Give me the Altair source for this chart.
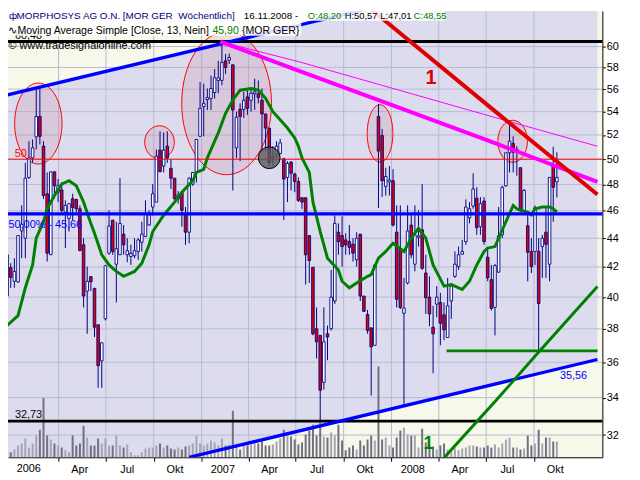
import altair as alt
import pandas as pd

FONT = "Liberation Sans"
NAVY = "#000080"
RED = "#e00000"
GREEN = "#008000"
GRID = "#b9b9d3"
CREAM = "#f6f8ea"
LAVENDER = "#dcdcee"

# ---------------- data (weekly candles, MORPHOSYS) ----------------
opens = [40.07, 41.96, 41.04, 41.00, 44.52, 44.00, 48.55, 50.11, 51.84, 53.58,
         51.07, 47.28, 42.84, 48.99, 47.40, 47.58, 45.90, 45.43, 46.90, 46.85,
         46.15, 43.53, 40.39, 41.35, 40.57, 38.25, 36.08, 38.62, 42.95, 45.31,
         42.19, 42.84, 44.29, 42.84, 42.72, 42.77, 43.07, 43.71, 44.12, 44.95,
         46.28, 46.65, 50.74, 49.45, 51.07, 49.27, 48.49, 46.90, 47.40, 45.70,
         44.43, 48.03, 48.94, 51.89, 54.44, 55.06, 55.15, 55.70, 56.80, 56.80,
         58.63, 58.70, 58.25, 50.93, 54.20, 54.20, 55.30, 55.00, 55.58, 55.58,
         55.00, 53.80, 52.58, 50.11, 50.38, 50.47, 50.03, 48.55, 49.77, 48.81,
         48.23, 46.98, 46.98, 44.19, 41.98, 38.00, 37.60, 34.85, 37.70, 38.00,
         39.75, 44.43, 44.19, 43.88, 43.76, 43.57, 42.49, 44.29, 40.07, 38.89,
         38.06, 37.00, 53.58, 51.95, 47.85, 48.20, 48.29, 44.43, 43.26, 38.97,
         40.93, 44.95, 42.19, 44.07, 44.60, 41.59, 40.00, 38.10, 39.55, 39.65,
         38.87, 37.47, 39.75, 41.37, 42.02, 42.88, 43.76, 45.48, 46.35, 46.95,
         44.83, 46.73, 42.67, 41.15, 39.34, 41.65, 44.24, 47.90, 50.52, 51.29,
         50.70, 49.32, 46.03, 44.90, 43.07, 43.07, 43.07, 43.41, 44.43, 42.19,
         49.45, 48.20]
highs = [42.90, 42.26, 42.60, 44.19, 46.40, 49.71, 51.48, 51.62, 56.06, 56.00,
         51.48, 48.94, 48.99, 48.99, 48.42, 48.16, 46.78, 46.53, 47.28, 46.90,
         46.40, 44.00, 42.02, 41.35, 40.61, 38.25, 37.15, 42.09, 46.03, 45.31,
         45.19, 48.49, 44.95, 44.00, 43.53, 44.00, 44.00, 45.19, 46.78, 46.03,
         48.03, 50.79, 52.31, 52.22, 52.31, 49.97, 48.49, 47.48, 47.48, 46.28,
         48.55, 48.94, 51.62, 56.66, 56.50, 56.06, 57.25, 57.85, 58.63, 60.30,
         59.27, 59.33, 58.25, 54.00, 54.73, 55.76, 55.90, 56.06, 56.95, 56.80,
         56.06, 53.80, 52.58, 51.07, 51.48, 51.67, 50.11, 49.84, 49.84, 48.94,
         48.55, 46.98, 46.98, 44.19, 41.98, 39.34, 37.60, 39.34, 38.20, 41.80,
         45.65, 45.07, 45.60, 44.36, 44.95, 44.00, 44.43, 44.29, 40.07, 39.18,
         38.06, 42.14, 54.68, 52.50, 49.32, 49.45, 49.20, 46.40, 46.40, 41.26,
         46.40, 45.78, 46.40, 46.03, 48.03, 42.84, 41.37, 39.44, 40.72, 40.28,
         39.65, 41.26, 40.93, 43.07, 43.41, 43.88, 46.85, 46.65, 48.88, 47.78,
         47.03, 47.03, 43.30, 42.14, 42.20, 46.28, 47.90, 50.52, 53.02, 51.89,
         51.07, 49.32, 47.65, 45.73, 44.00, 46.40, 44.00, 44.24, 46.28, 48.55,
         51.01, 50.57]
lows = [39.96, 40.61, 40.61, 40.93, 42.60, 42.60, 48.42, 49.71, 50.79, 51.20,
        46.90, 42.37, 42.84, 46.90, 46.65, 45.90, 43.30, 44.48, 45.31, 45.90,
        43.07, 39.34, 37.70, 40.39, 37.50, 34.54, 34.54, 38.52, 42.84, 42.84,
        39.65, 42.84, 42.84, 42.33, 42.14, 42.60, 42.49, 43.07, 44.12, 44.90,
        45.65, 46.65, 48.94, 48.94, 49.71, 47.65, 46.83, 46.53, 44.83, 43.53,
        43.64, 47.90, 48.16, 51.89, 51.89, 54.15, 54.15, 55.15, 55.62, 56.36,
        57.40, 58.32, 47.53, 50.11, 49.84, 53.44, 53.72, 54.00, 54.15, 54.73,
        50.66, 50.66, 49.45, 49.45, 50.11, 50.38, 45.31, 46.65, 47.53, 47.40,
        46.65, 46.15, 40.83, 40.93, 37.60, 36.22, 32.74, 34.44, 36.12, 37.90,
        39.55, 42.84, 42.02, 42.84, 42.84, 42.37, 42.02, 39.75, 39.09, 37.70,
        34.11, 37.00, 46.20, 47.03, 47.15, 47.15, 44.83, 39.34, 39.24, 33.54,
        40.83, 42.60, 41.70, 43.41, 41.80, 38.93, 38.16, 35.37, 38.72, 37.00,
        37.31, 37.47, 38.62, 41.26, 41.80, 42.84, 43.53, 45.07, 46.15, 44.24,
        44.24, 43.53, 41.04, 39.14, 37.60, 41.59, 44.00, 47.82, 48.94, 48.94,
        48.68, 45.90, 45.90, 41.04, 41.59, 42.14, 36.71, 41.26, 41.26, 41.04,
        45.19, 47.01]
closes = [42.84, 41.30, 41.70, 44.19, 45.00, 48.49, 50.11, 50.93, 53.58, 51.89,
          47.15, 42.95, 48.99, 47.90, 47.90, 46.03, 46.40, 46.53, 46.23, 46.15,
          43.14, 40.07, 41.04, 41.00, 38.10, 35.80, 37.15, 42.09, 44.88, 43.07,
          43.26, 45.07, 43.53, 43.12, 42.93, 43.12, 43.88, 44.29, 45.78, 45.70,
          47.28, 50.25, 49.01, 50.74, 50.11, 48.49, 46.90, 47.20, 46.03, 44.43,
          48.49, 48.94, 51.62, 54.29, 54.73, 55.24, 56.06, 57.04, 57.04, 58.48,
          58.00, 58.95, 54.15, 53.52, 53.58, 55.00, 54.29, 55.64, 55.76, 55.24,
          53.80, 52.58, 49.71, 50.25, 51.07, 51.34, 48.42, 49.66, 48.88, 48.23,
          46.78, 46.65, 42.84, 42.44, 37.70, 37.21, 34.41, 37.21, 37.50, 40.00,
          45.07, 43.76, 43.41, 43.53, 43.36, 42.95, 44.00, 40.07, 39.09, 37.90,
          36.91, 42.14, 50.66, 48.29, 48.62, 48.35, 44.95, 39.86, 39.34, 39.30,
          44.52, 42.84, 44.24, 44.17, 41.91, 39.96, 38.93, 37.70, 40.00, 38.35,
          37.94, 39.44, 40.72, 42.19, 42.84, 43.07, 46.28, 46.15, 47.65, 44.76,
          46.53, 43.76, 41.26, 39.28, 42.09, 44.17, 47.78, 50.52, 51.48, 50.57,
          50.80, 46.03, 47.53, 43.02, 42.02, 46.23, 39.59, 44.00, 43.57, 48.55,
          47.78, 48.55]
volumes = [80, 100, 160, 240, 280, 380, 200, 280, 440, 560,
           1200, 440, 360, 280, 240, 200, 140, 100, 440, 240,
           280, 640, 400, 240, 240, 380, 280, 380, 240, 240,
           440, 240, 200, 260, 100, 40, 40, 100, 180, 200,
           200, 240, 280, 200, 240, 180, 160, 200, 160, 220,
           240, 280, 440, 280, 240, 280, 340, 300, 240, 380,
           240, 260, 940, 280, 160, 280, 240, 260, 280, 280,
           320, 240, 240, 260, 320, 380, 560, 440, 420, 360,
           260, 300, 460, 540, 660, 440, 700, 420, 400, 500,
           440, 660, 340, 140, 200, 240, 160, 340, 240, 360,
           440, 340, 1840, 360, 400, 240, 200, 400, 540, 600,
           460, 440, 440, 200, 580, 300, 240, 220, 160, 240,
           280, 160, 100, 180, 140, 180, 200, 240, 240, 220,
           200, 200, 240, 200, 260, 200, 280, 360, 400, 200,
           200, 160, 180, 440, 240, 280, 560, 280, 400, 400,
           320, 320]
# 13-week simple moving average at these bars
ma_index = [0, 3, 5, 7, 8, 10, 11, 13, 15, 17,
            19, 21, 23, 24, 26, 28, 30, 32, 35, 37,
            39, 40, 43, 46, 48, 51, 52, 54, 55, 58,
            60, 62, 64, 67, 69, 71, 73, 75, 77, 79,
            80, 81, 83, 84, 86, 88, 91, 92, 94, 96,
            99, 100, 102, 104, 106, 109, 111, 113, 115, 117,
            120, 122, 124, 125, 127, 129, 131, 132, 134, 135,
            137, 139, 140, 141, 143, 144, 145, 147, 149, 150, 151]
ma_values = [38.21, 38.82, 40.61, 42.14, 44.00, 45.19, 46.15, 47.15, 48.03, 48.29,
             47.90, 46.65, 45.07, 44.36, 42.84, 42.14, 41.70, 41.37, 41.70, 42.26,
             43.53, 44.48, 45.67, 46.65, 47.40, 48.29, 48.94, 49.19, 50.11, 52.17,
             53.86, 55.03, 55.91, 56.06, 55.91, 55.18, 54.00, 53.30, 52.59, 51.75,
             51.07, 50.11, 48.94, 46.65, 44.48, 42.60, 41.80, 41.04, 40.61, 40.93,
             41.37, 41.48, 42.60, 43.07, 43.64, 43.07, 44.00, 44.71, 44.00, 42.14,
             40.72, 40.83, 40.61, 40.50, 41.04, 42.14, 43.07, 43.30, 43.41, 44.00,
             45.19, 46.40, 46.15, 46.03, 45.90, 45.70, 46.15, 46.28, 46.28, 46.15, 45.90]

y_ticks = [32, 34, 36, 38, 40, 42, 44, 46, 48, 50, 52, 54, 56, 58, 60]
quarter_ticks = ["2006-04-01", "2006-07-01", "2006-10-01", "2007-01-01", "2007-04-01",
                 "2007-07-01", "2007-10-01", "2008-01-01", "2008-04-01", "2008-07-01",
                 "2008-10-01"]

# drawn levels and trend lines (date, price)
black_levels = [60.48, 32.73]
fib_level = 45.77
red_level = 50.0
channel_dates = ["2005-12-23", "2006-12-08", "2008-01-01", "2009-01-31"]
channel_upper = [55.48, 59.54, 64.37, 64.37]
channel_lower = [30.87, 30.87, 33.38, 36.16]
blue_upper = [("2005-12-23", 55.48), ("2008-01-01", 64.37)]
blue_lower = [("2006-12-08", 30.87), ("2009-01-31", 36.16)]
magenta_thick = [("2007-02-06", 60.48), ("2007-07-02", 57.77), ("2008-01-05", 54.52),
                 ("2008-07-09", 51.47), ("2009-01-31", 48.20)]
magenta_thin = [("2007-02-06", 60.48), ("2007-07-11", 58.49), ("2008-01-14", 55.93),
                ("2008-07-19", 53.48), ("2009-01-31", 51.06)]
red_trend = [("2007-11-08", 64.37), ("2008-01-05", 61.85), ("2008-07-19", 54.00),
             ("2009-01-31", 47.23)]
green_flat = [("2008-04-16", 36.67), ("2009-01-31", 36.67)]
green_trend = [("2008-04-12", 30.87), ("2008-07-19", 33.81), ("2008-10-11", 36.63),
               ("2009-01-31", 40.70)]
ellipse_centers = [("2006-02-21", 52.97), ("2006-10-12", 51.39), ("2007-02-18", 54.74),
                   ("2007-12-10", 52.13), ("2008-08-21", 51.47)]
marker_center = ("2007-05-11", 50.12)

# ---------------- frames ----------------
dates = pd.date_range("2005-12-23", periods=len(closes), freq="7D")
candles = pd.DataFrame({"date": dates, "open": opens, "high": highs, "low": lows,
                        "close": closes, "volume": volumes})
candles["dir"] = ["up" if c >= o else "down" for o, c in zip(opens, closes)]
ma_df = pd.DataFrame({"date": dates[ma_index], "ma": ma_values})

X_SCALE = alt.Scale(domain=[alt.DateTime(year=2006, month=1, date=3, hours=5),
                            alt.DateTime(year=2009, month=1, date=31)])
Y_SCALE = alt.Scale(type="log", domain=[30.87, 63.55], nice=False, zero=False)
X_AXIS = alt.Axis(values=[alt.DateTime(year=int(q[:4]), month=int(q[5:7]), date=1)
                          for q in quarter_ticks],
                  labelExpr="month(datum.value) == 0 ? timeFormat(datum.value, '%Y') : "
                            "month(datum.value) == 3 ? 'Apr' : month(datum.value) == 6 ? 'Jul' : 'Okt'",
                  title=None, grid=False, tickSize=4, labelPadding=2, labelOffset=21,
                  labelFlush=False, labelOverlap=False, labelFont=FONT, labelFontSize=11,
                  labelColor="black", domainColor="black", tickColor="black")


def xenc(field):
    return alt.X(f"{field}:T", scale=X_SCALE, axis=X_AXIS)


def yenc(field):
    return alt.Y(f"{field}:Q", scale=Y_SCALE, axis=None)


def tline(points, color, width):
    df = pd.DataFrame({"d": pd.to_datetime([p[0] for p in points]),
                       "v": [p[1] for p in points]})
    return alt.Chart(df).mark_line(color=color, strokeWidth=width, clip=True).encode(
        x=xenc("d"), y=yenc("v"))


def hline(value, color, width):
    return alt.Chart(pd.DataFrame({"v": [value]})).mark_rule(
        color=color, strokeWidth=width).encode(y=yenc("v"))


def label(text, x, y, color="black", size=11, align="left", baseline="alphabetic",
          weight="normal"):
    return alt.Chart(pd.DataFrame({"t": [text]})).mark_text(
        align=align, baseline=baseline, color=color, fontSize=size, font=FONT,
        fontWeight=weight).encode(x=alt.value(x), y=alt.value(y), text="t:N")


def ellipse(center, rx, ry):
    m = max(rx, ry)
    a, b = rx / m, ry / m
    path = f"M {-a:.3f} 0 A {a:.3f} {b:.3f} 0 1 1 {a:.3f} 0 A {a:.3f} {b:.3f} 0 1 1 {-a:.3f} 0 Z"
    df = pd.DataFrame({"d": pd.to_datetime([center[0]]), "v": [center[1]]})
    return alt.Chart(df).mark_point(
        shape=path, size=(2 * m) ** 2, filled=True, fill="#c87896", fillOpacity=0.2,
        stroke="#ff0000", strokeWidth=1, strokeOpacity=1, opacity=1, clip=True
    ).encode(x=xenc("d"), y=yenc("v"))


layers = []

# channel background
channel_df = pd.DataFrame({"d": pd.to_datetime(channel_dates), "upper": channel_upper,
                           "lower": channel_lower})
layers.append(alt.Chart(channel_df).mark_area(color=LAVENDER, opacity=1, clip=True).encode(
    x=xenc("d"), y=yenc("upper"), y2=alt.Y2("lower:Q")))

# grid
layers.append(alt.Chart(pd.DataFrame({"v": y_ticks})).mark_rule(color=GRID, strokeWidth=1).encode(
    y=yenc("v")))
layers.append(alt.Chart(pd.DataFrame({"d": pd.to_datetime(quarter_ticks)})).mark_rule(
    color=GRID, strokeWidth=1).encode(x=xenc("d")))

# ellipses
for c, rx, ry in zip(ellipse_centers, [24, 15, 45.5, 13, 15], [41, 16.7, 72.4, 29, 21.3]):
    layers.append(ellipse(c, rx, ry))

# volume
layers.append(alt.Chart(candles).mark_bar(size=2, clip=True).encode(
    x=xenc("date"),
    y=alt.Y("volume:Q", scale=alt.Scale(domain=[0, 9040]), axis=None),
    color=alt.Color("dir:N", scale=alt.Scale(domain=["up", "down"], range=["#a4a4b4", "#707082"]),
                    legend=None)))

# candles
layers.append(alt.Chart(candles).mark_rule(color=NAVY, strokeWidth=1, clip=True).encode(
    x=xenc("date"),
    y=alt.Y("low:Q", scale=Y_SCALE,
            axis=alt.Axis(orient="right", values=y_ticks, format="d", title=None, grid=False,
                          tickSize=3, labelPadding=1, labelFont=FONT, labelFontSize=11,
                          labelColor="black", domainColor="black", tickColor="black",
                          labelOverlap=False, labelFlush=False)),
    y2=alt.Y2("high:Q")))
layers.append(alt.Chart(candles).mark_bar(size=2.6, stroke=NAVY, strokeWidth=0.9, clip=True).encode(
    x=xenc("date"), y=yenc("open"), y2=alt.Y2("close:Q"),
    fill=alt.Fill("dir:N", scale=alt.Scale(domain=["up", "down"], range=["#ffffff", RED]),
                  legend=None)))

# moving average
layers.append(alt.Chart(ma_df).mark_line(color=GREEN, strokeWidth=3, clip=True).encode(
    x=xenc("date"), y=yenc("ma")))

# levels
layers.append(hline(red_level, "#ff0000", 1))
layers.append(hline(fib_level, "#0000ff", 3.3))
for lv in black_levels:
    layers.append(hline(lv, "#000000", 3))

# trend lines
layers.append(tline(blue_upper, "#0000ff", 3.3))
layers.append(tline(blue_lower, "#0000ff", 3.3))
layers.append(tline(magenta_thin, "#ff00ff", 1))
layers.append(tline(magenta_thick, "#ff00ff", 4))
layers.append(tline(red_trend, "#e00000", 4))
layers.append(tline(green_flat, GREEN, 3))
layers.append(tline(green_trend, GREEN, 3))

# grey marker
mk = pd.DataFrame({"d": pd.to_datetime([marker_center[0]]), "v": [marker_center[1]]})
layers.append(alt.Chart(mk).mark_point(shape="circle", size=484, filled=True, fill="#5a5a5a",
                                       fillOpacity=0.8, stroke="#000000", strokeWidth=1,
                                       opacity=1).encode(x=xenc("d"), y=yenc("v")))

# "1" labels
for txt_date, price, col, fs in [("2008-03-17", 57.01, "#e00000", 20), ("2008-03-12", 31.52, GREEN, 18)]:
    df1 = pd.DataFrame({"d": pd.to_datetime([txt_date]), "v": [price], "t": ["1"]})
    layers.append(alt.Chart(df1).mark_text(color=col, fontSize=fs, fontWeight="bold", font=FONT,
                                           align="center", baseline="middle").encode(
        x=xenc("d"), y=yenc("v"), text="t:N"))

# level labels
layers.append(label("50", 19, 148, color="#ff0000", align="right"))
layers.append(label("50,00% - 45,66", 0.5, 220, color="#0000ff"))
layers.append(label("32,73", 7, 412))
layers.append(label("35,56", 559, 373, color="#0000ff"))
layers.append(label("60,48", 7, 28.5))
layers.append(label("2006", 21, 458, align="center", baseline="top"))

# header box
layers.append(alt.Chart(pd.DataFrame({"a": [0]})).mark_rect(color="white", opacity=0.85).encode(
    x=alt.value(0), x2=alt.value(442), y=alt.value(0), y2=alt.value(10)))
layers.append(alt.Chart(pd.DataFrame({"a": [0]})).mark_rect(color="white", opacity=0.85).encode(
    x=alt.value(0), x2=alt.value(297), y=alt.value(10), y2=alt.value(25)))
layers.append(label("\u0444", 1, 8, color=NAVY, size=10))
layers.append(label("MORPHOSYS AG O.N. [MOR GER\u00a0 W\u00f6chentlich]", 8.7, 8, color=NAVY, size=10))
layers.append(label("16.11.2008 -", 238.7, 8, size=10))
layers.append(label("O:48,20", 303.7, 8, color=GREEN, size=9.5))
layers.append(label("H:50,57", 341, 8, size=9.5))
layers.append(label("L:47,01", 377, 8, size=9.5))
layers.append(label("C:48,55", 411, 8, color=GREEN, size=9.5))
layers.append(label("\u223f", 0, 23, size=11))
layers.append(label("Moving Average Simple [Close, 13, Nein]", 9.5, 23, size=10.7))
layers.append(label("45,90", 207, 23, color=GREEN, size=10.7))
layers.append(label("{MOR GER}", 237, 23, size=10.7))
layers.append(label("\u00a9 www.tradesignalonline.com", 0.5, 38))

chart = alt.layer(*layers).resolve_scale(y="independent").properties(
    width=602, height=452,
    autosize=alt.AutoSizeParams(type="none"),
    padding={"left": 0, "top": 0, "right": 30, "bottom": 22},
).configure(background="white").configure_view(fill=CREAM, strokeWidth=0)

chart.save("out.html", embed_options={"renderer": "svg", "actions": False})
